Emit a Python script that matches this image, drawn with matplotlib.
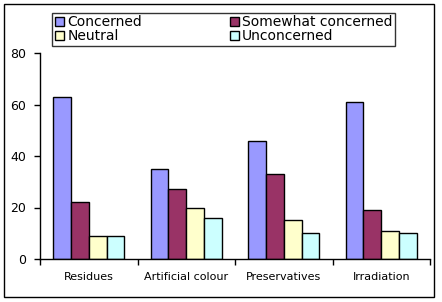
import matplotlib
matplotlib.use("Agg")
import matplotlib.pyplot as plt
from matplotlib.patches import Rectangle
import numpy as np

categories = ["Residues", "Artificial colour", "Preservatives", "Irradiation"]
series = ["Concerned", "Somewhat concerned", "Neutral", "Unconcerned"]
concerned = [63, 35, 46, 61]
somewhat = [22, 27, 33, 19]
neutral = [9, 20, 15, 11]
unconcerned = [9, 16, 10, 10]
colors = ["#9999FF", "#993366", "#FFFFCC", "#CCFFFF"]

values = [concerned, somewhat, neutral, unconcerned]

fig = plt.figure(figsize=(4.42, 3.02), dpi=100)
ax = fig.add_axes([40 / 442, 1 - 259 / 302, 390 / 442, 206 / 302])

x = np.arange(len(categories))
w = 0.1825
handles = []
for i, (name, vals) in enumerate(zip(series, values)):
    b = ax.bar(x + (i - 1.5) * w, vals, w, color=colors[i], edgecolor="black",
               linewidth=1.0, label=name)
    handles.append(b)

ax.set_xlim(-0.5, len(categories) - 0.5)
ax.set_ylim(0, 80)
ax.set_yticks([0, 20, 40, 60, 80])
ax.set_xticks(np.arange(len(categories) + 1) - 0.5)
ax.set_xticklabels([])
ax.set_xticks(x, minor=True)
ax.set_xticklabels(categories, minor=True, fontsize=8)
ax.tick_params(axis="x", which="minor", length=0, pad=9)
ax.tick_params(axis="x", which="major", length=4, direction="out", width=1)
ax.tick_params(axis="y", length=4, direction="out", width=1, labelsize=9, pad=6)
for s in ["top", "right"]:
    ax.spines[s].set_visible(False)
for s in ["left", "bottom"]:
    ax.spines[s].set_linewidth(1)

# legend fills column-wise, so reorder for the row layout
order = [0, 2, 1, 3]
leg = fig.legend([handles[i] for i in order], [series[i] for i in order],
                 ncol=2, loc="upper left", bbox_to_anchor=(52 / 442, 1 - 12.5 / 302),
                 fontsize=10, frameon=True, fancybox=False, handlelength=0.65,
                 handleheight=0.65, handletextpad=0.25, columnspacing=6.3,
                 labelspacing=0.0, borderpad=0.2, borderaxespad=0)
leg.get_frame().set_edgecolor("black")
leg.get_frame().set_linewidth(1)

fig.patches.append(Rectangle((4 / 442, 1 - 297 / 302), 430 / 442, 293 / 302,
                             transform=fig.transFigure, fill=False,
                             edgecolor="black", linewidth=1))

fig.savefig("out.png", dpi=100)
